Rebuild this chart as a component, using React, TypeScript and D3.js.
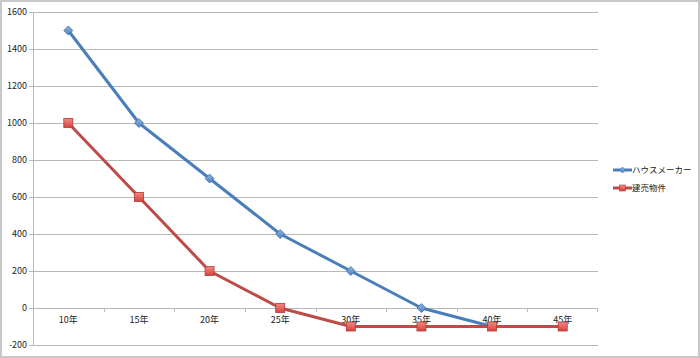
import React from "react";
import * as d3 from "d3";

const categories = ["10年", "15年", "20年", "25年", "30年", "35年", "40年", "45年"];
const houseMaker = [1500, 1000, 700, 400, 200, 0, -100, -100];
const tateuri = [1000, 600, 200, 0, -100, -100, -100, -100];
const yTicks = [-200, 0, 200, 400, 600, 800, 1000, 1200, 1400, 1600];
const seriesNames = ["ハウスメーカー", "建売物件"];

const W = 700, H = 358;
const left = 33, right = 598, top = 12, bottom = 345;
const font = "'Noto Sans CJK JP', 'Noto Sans', sans-serif";
const blue = "#4a7ebb";
const red = "#be4b48";

const diamond = (r: number) => `M0,${-r}L${r},0L0,${r}L${-r},0Z`;

export default function App() {
  const x = d3.scaleBand<string>().domain(categories).range([left, right]);
  const y = d3.scaleLinear().domain([-200, 1600]).range([bottom, top]);
  const line = d3.line<number>().x((_, i) => (x(categories[i]) as number) + x.bandwidth() / 2).y(d => y(d));
  const cx = (i: number) => (x(categories[i]) as number) + x.bandwidth() / 2;
  const grid = "#b8b8b8";
  return (
    <svg width={W} height={H} style={{ position: "absolute", left: 0, top: 0 }} fontFamily={font}>
      <defs>
        <linearGradient id="rg" x1="0" y1="0" x2="0" y2="1">
          <stop offset="0" stopColor="#f08a86" />
          <stop offset="1" stopColor="#d9413c" />
        </linearGradient>
        <linearGradient id="bg" x1="0" y1="0" x2="0" y2="1">
          <stop offset="0" stopColor="#8fb4e3" />
          <stop offset="1" stopColor="#4f81bd" />
        </linearGradient>
      </defs>
      <rect x={0} y={0} width={W} height={H} fill="#fff" />
      <rect x={1} y={1} width={W - 2} height={H - 2} fill="none" stroke="#c8c8c8" strokeWidth={2} />
      {yTicks.map(t => (
        <g key={t}>
          <line x1={left} x2={right} y1={Math.round(y(t)) + 0.5} y2={Math.round(y(t)) + 0.5} stroke={grid} strokeWidth={1} />
          <line x1={left - 4} x2={left} y1={Math.round(y(t)) + 0.5} y2={Math.round(y(t)) + 0.5} stroke={grid} />
          <text x={left - 6} y={y(t) + 3} fontSize={9} textAnchor="end" fill="#222">{t}</text>
        </g>
      ))}
      <line x1={left + 0.5} x2={left + 0.5} y1={top} y2={bottom} stroke={grid} />
      {categories.map((c, i) => (
        <g key={c}>
          <line x1={Math.round(x(c) as number) + 0.5} x2={Math.round(x(c) as number) + 0.5} y1={y(0)} y2={y(0) + 4} stroke={grid} />
          <text x={cx(i)} y={y(0) + 15} fontSize={9} textAnchor="middle" fill="#222">{c}</text>
        </g>
      ))}
      <line x1={right - 0.5} x2={right - 0.5} y1={y(0)} y2={y(0) + 4} stroke={grid} />
      <path d={line(houseMaker) as string} fill="none" stroke={blue} strokeWidth={3} strokeLinejoin="round" />
      <path d={line(tateuri) as string} fill="none" stroke={red} strokeWidth={3} strokeLinejoin="round" />
      {houseMaker.map((v, i) => (
        <path key={"b" + i} d={diamond(4.5)} transform={`translate(${cx(i)},${y(v)})`} fill="url(#bg)" stroke="#3d6fa8" strokeWidth={0.8} />
      ))}
      {tateuri.map((v, i) => (
        <rect key={"r" + i} x={cx(i) - 4.5} y={y(v) - 4.5} width={9} height={9} fill="url(#rg)" stroke="#b03a36" strokeWidth={0.8} />
      ))}
      <g>
        <line x1={613} x2={632} y1={170} y2={170} stroke={blue} strokeWidth={3} />
        <path d={diamond(3)} transform="translate(622.5,170)" fill="url(#bg)" stroke="#3d6fa8" strokeWidth={0.6} />
        <text x={632} y={173} fontSize={8.5} fill="#222">{seriesNames[0]}</text>
        <line x1={613} x2={632} y1={188} y2={188} stroke={red} strokeWidth={3} />
        <rect x={619.5} y={185} width={6} height={6} fill="url(#rg)" stroke="#b03a36" strokeWidth={0.6} />
        <text x={632} y={191} fontSize={8.5} fill="#222">{seriesNames[1]}</text>
      </g>
    </svg>
  );
}
